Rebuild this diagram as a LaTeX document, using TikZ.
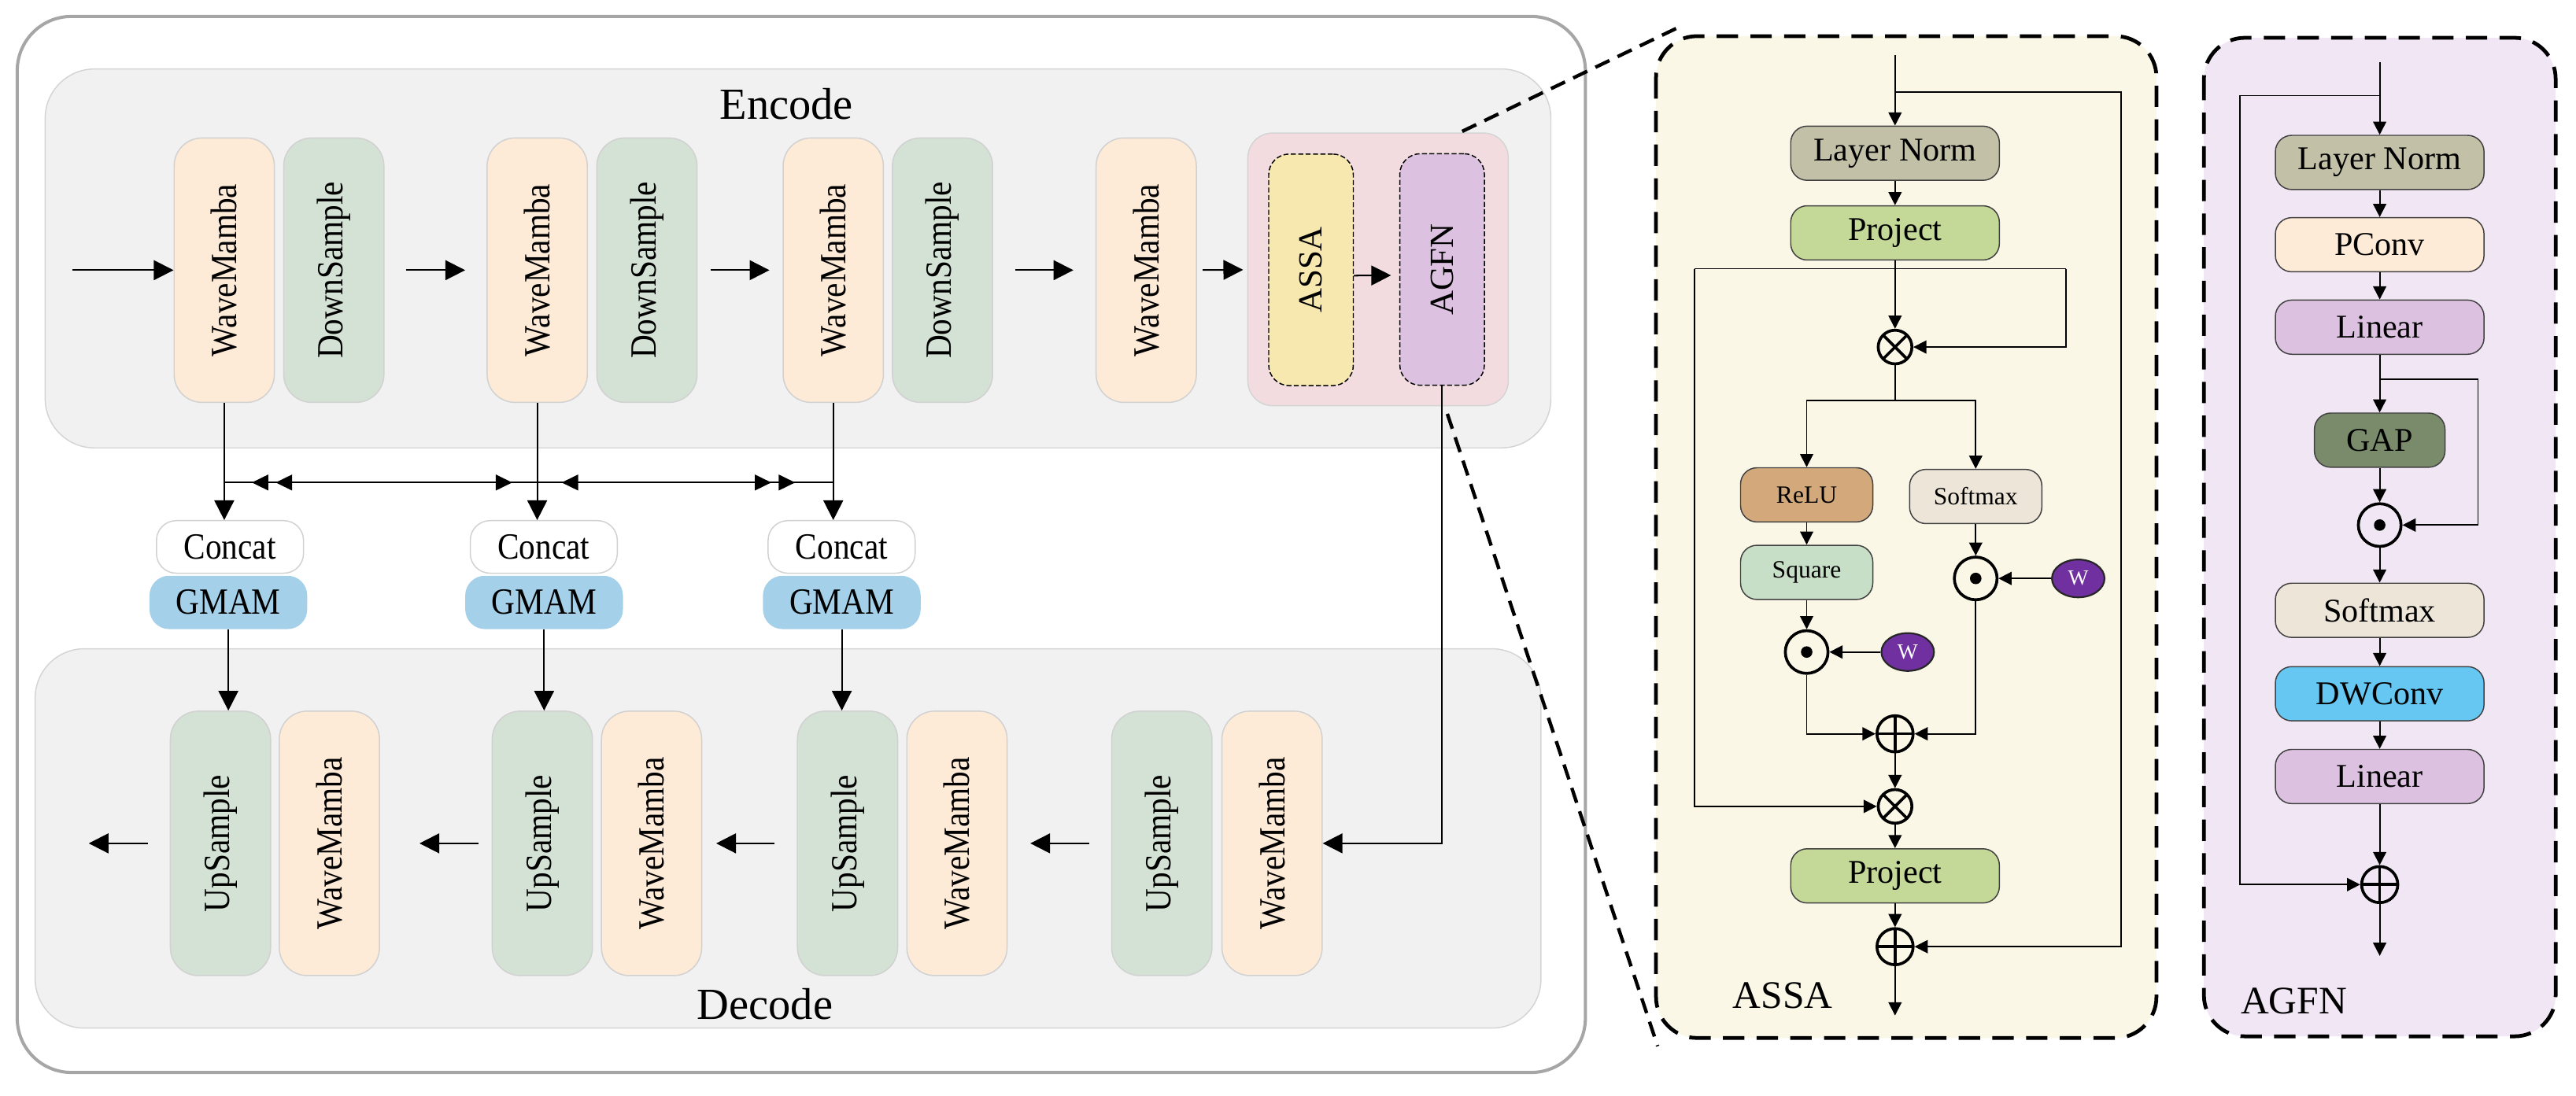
\documentclass[tikz,border=0pt]{standalone}
\usepackage{fontspec}
\setmainfont{Liberation Serif}
\newfontfamily\condfont[FakeStretch=0.88]{Liberation Serif}
\usetikzlibrary{arrows.meta,shapes.geometric}
\definecolor{framegray}{HTML}{A6A6A6}
\definecolor{panelgray}{HTML}{F1F1F1}
\definecolor{wmfill}{HTML}{FDEAD7}
\definecolor{dsfill}{HTML}{D3E2D4}
\definecolor{pinkfill}{HTML}{F3DCDF}
\definecolor{assafill}{HTML}{F7E8B0}
\definecolor{agfnfill}{HTML}{DCC2E0}
\definecolor{gmamfill}{HTML}{A4D0E9}
\definecolor{creamfill}{HTML}{FAF7E7}
\definecolor{lavfill}{HTML}{F1E6F4}
\definecolor{lnfill}{HTML}{C3C0A8}
\definecolor{projfill}{HTML}{C4D897}
\definecolor{relufill}{HTML}{D3A97C}
\definecolor{softfill}{HTML}{EDE6D8}
\definecolor{sqfill}{HTML}{C7DEC7}
\definecolor{wfill}{HTML}{7030A0}
\definecolor{pcfill}{HTML}{FDEBD8}
\definecolor{gapfill}{HTML}{7A8B6C}
\definecolor{dwfill}{HTML}{66C8F2}
\newcommand{\vlab}[1]{\rotatebox{90}{#1}}
\begin{document}
\begin{tikzpicture}[x=0.2mm,y=-0.2mm,
	blk/.style={draw=black!18, rounded corners=3.4mm, minimum width=12.2mm, minimum height=32.2mm, inner sep=0pt, font=\condfont\fontsize{12.8}{14}\selectfont},
	wm/.style={blk, fill=wmfill},
	ds/.style={blk, fill=dsfill},
	inblk/.style={draw=black, line width=0.4pt, dash pattern=on 0.6mm off 0.3mm, rounded corners=2.5mm, minimum width=10.3mm, minimum height=28.2mm, inner sep=0pt, font=\fontsize{11.7}{13}\selectfont},
	cat/.style={draw=black!18, fill=white, rounded corners=2.4mm, minimum width=17.9mm, minimum height=6.4mm, inner sep=0pt, font=\condfont\fontsize{12.8}{14}\selectfont},
	gm/.style={cat, draw=none, fill=gmamfill, minimum width=19.2mm, minimum height=6.5mm},
	arr/.style={-{Triangle[length=2.4mm,width=2.4mm]}, line width=0.55pt},
	skl/.style={line width=0.55pt},
	sk/.tip={Triangle[length=2mm,width=1.9mm,sep=0.9mm]},
	zoomline/.style={line width=1.2pt, dash pattern=on 1.9mm off 1.1mm},
	panelline/.style={line width=1.3pt, dash pattern=on 2.6mm off 1.5mm, rounded corners=5mm},
	box/.style={draw=black!75, line width=0.4pt, rounded corners=2mm, minimum width=25.4mm, minimum height=6.6mm, inner sep=0pt, font=\fontsize{11.5}{13}\selectfont},
	sbox/.style={box, minimum width=16.1mm, font=\fontsize{8.6}{10}\selectfont},
	parr/.style={-{Triangle[length=1.6mm,width=1.6mm]}, line width=0.5pt},
	pl/.style={line width=0.5pt},
	op/.style={circle, draw, line width=1pt, minimum size=4.2mm, inner sep=0pt},
	mulop/.style={op, minimum size=4.1mm, path picture={\draw[line width=1pt] (path picture bounding box.south west) -- (path picture bounding box.north east) (path picture bounding box.north west) -- (path picture bounding box.south east);}},
	addop/.style={op, minimum size=4.4mm, path picture={\draw[line width=1pt] (path picture bounding box.north) -- (path picture bounding box.south) (path picture bounding box.west) -- (path picture bounding box.east);}},
	dotop/.style={op, minimum size=5.2mm, path picture={\fill (path picture bounding box.center) circle (0.7mm);}},
	wgt/.style={ellipse, draw=black!85, line width=0.6pt, fill=wfill, text=white, minimum width=6.4mm, minimum height=4.6mm, inner sep=0pt, font=\fontsize{7.5}{8}\selectfont}]
	\useasboundingbox (0,0) rectangle (1568,667);
	\draw[framegray, line width=1.1pt, rounded corners=6.6mm] (10.5,10) rectangle (965,653);
	\draw[draw=black!17, fill=panelgray, rounded corners=6mm] (27.5,42) rectangle (944,272.7);
	\draw[draw=black!17, fill=panelgray, rounded corners=6mm] (21.4,395) rectangle (938,626);
	\node[font=\fontsize{15.4}{17}\selectfont] (enc) at (478.7,63.5) {Encode};
	\node[font=\fontsize{15.4}{17}\selectfont] (dec) at (465.6,611.5) {Decode};

	\node[wm] (wm1) at (136.5,164.5) {\vlab{WaveMamba}};
	\node[ds] (ds1) at (203.2,164.5) {\vlab{DownSample}};
	\node[wm] (wm2) at (327,164.5) {\vlab{WaveMamba}};
	\node[ds] (ds2) at (393.8,164.5) {\vlab{DownSample}};
	\node[wm] (wm3) at (507.2,164.5) {\vlab{WaveMamba}};
	\node[ds] (ds3) at (573.7,164.5) {\vlab{DownSample}};
	\node[wm] (wm4) at (697.7,164.5) {\vlab{WaveMamba}};
	\node[draw=black!17, fill=pinkfill, rounded corners=3mm, minimum width=31.7mm, minimum height=33.2mm] (ssb) at (838.8,164) {};
	\node[inblk, fill=assafill] (assa) at (798,164.3) {\vlab{ASSA}};
	\node[inblk, fill=agfnfill] (agfn) at (877.8,164.1) {\vlab{AGFN}};

	\node[cat] (cat1) at (140,333) {Concat};
	\node[gm] (gm1) at (139,366.8) {GMAM};
	\node[cat] (cat2) at (331,333) {Concat};
	\node[gm] (gm2) at (331.2,366.8) {GMAM};
	\node[cat] (cat3) at (512.3,333) {Concat};
	\node[gm] (gm3) at (512.4,366.8) {GMAM};

	\node[ds] (ups1) at (134.2,513.5) {\vlab{UpSample}};
	\node[wm] (dwm1) at (200.5,513.5) {\vlab{WaveMamba}};
	\node[ds] (ups2) at (330.1,513.5) {\vlab{UpSample}};
	\node[wm] (dwm2) at (396.6,513.5) {\vlab{WaveMamba}};
	\node[ds] (ups3) at (515.9,513.5) {\vlab{UpSample}};
	\node[wm] (dwm3) at (582.5,513.5) {\vlab{WaveMamba}};
	\node[ds] (ups4) at (707.2,513.5) {\vlab{UpSample}};
	\node[wm] (dwm4) at (774.3,513.5) {\vlab{WaveMamba}};

	\coordinate (ein) at (44,164.5);
	\coordinate (dout) at (54,513.5);
	\draw[arr] (ein) -- (wm1);
	\draw[arr, shorten <=2.6mm, shorten >=2.6mm] (ds1) -- (wm2);
	\draw[arr, shorten <=1.6mm, shorten >=1.6mm] (ds2) -- (wm3);
	\draw[arr, shorten <=2.7mm, shorten >=2.7mm] (ds3) -- (wm4);
	\draw[arr, shorten <=0.7mm, shorten >=0.5mm] (wm4) -- (ssb);
	\draw[arr, shorten >=1mm] ([yshift=-0.7mm]assa.east) -- ([yshift=-0.7mm]agfn.west);
	\draw[arr] (wm1) -- (wm1.south |- cat1.north);
	\draw[arr] (wm2) -- (wm2.south |- cat2.north);
	\draw[arr] (wm3) -- (wm3.south |- cat3.north);
	\coordinate (skl) at (0,293.8);
	\coordinate (sa) at (148.8,293.8);
	\coordinate (sb) at (316.3,293.8);
	\coordinate (sc) at (337.4,293.8);
	\coordinate (sd) at (488.5,293.8);
	\draw[skl] (wm1.south |- skl) -- (wm3.south |- skl);
	\draw[skl, {sk[]sk[]}-{sk[]}] (sa) -- (sb);
	\draw[skl, {sk[]}-{sk[]sk[]}] (sc) -- (sd);
	\draw[arr] (gm1) -- (gm1.south |- ups1.north);
	\draw[arr] (gm2) -- (gm2.south |- ups2.north);
	\draw[arr] (gm3) -- (gm3.south |- ups3.north);
	\draw[arr, shorten <=2.7mm] (ups1) -- (dout);
	\draw[arr, shorten <=1.6mm, shorten >=4.8mm] (ups2) -- (dwm1);
	\draw[arr, shorten <=2.7mm, shorten >=1.7mm] (ups3) -- (dwm2);
	\draw[arr, shorten <=2.7mm, shorten >=2.76mm] (ups4) -- (dwm3);
	\draw[arr] (agfn) |- (dwm4);

	\draw[panelline, fill=creamfill] (1008,22) rectangle (1312.6,632);
	\draw[panelline, fill=lavfill] (1341.5,23) rectangle (1555.6,631);
	\coordinate (z1) at (890,80);
	\coordinate (z2) at (1023,16);
	\coordinate (z3) at (881,252);
	\coordinate (z4) at (1009,637);
	\draw[zoomline] (z1) -- (z2);
	\draw[zoomline] (z3) -- (z4);

	\coordinate (ai) at (1153.5,33.6);
	\coordinate (ar) at (1291,56);
	\node[box, fill=lnfill] (aln) at (1153.5,93.3) {Layer Norm};
	\node[box, fill=projfill] (apj) at (1153.5,141.8) {Project};
	\node[mulop] (am1) at (1153.5,211.3) {};
	\node[sbox, fill=relufill] (arl) at (1099.7,301.3) {ReLU};
	\node[sbox, fill=softfill] (asm) at (1202.6,302.3) {Softmax};
	\node[sbox, fill=sqfill] (asq) at (1099.7,348.5) {Square};
	\node[dotop] (adr) at (1202.6,352.2) {};
	\node[wgt] (awr) at (1265,352.2) {W};
	\node[dotop] (adl) at (1099.7,397) {};
	\node[wgt] (awl) at (1161.2,397) {W};
	\node[addop] (aa1) at (1153.5,446.8) {};
	\node[mulop] (am2) at (1153.5,491) {};
	\node[box, fill=projfill] (apj2) at (1153.5,533.3) {Project};
	\node[addop] (aa2) at (1153.5,576.4) {};
	\coordinate (ao) at (1153.5,618.3);
	\coordinate (al) at (1031.5,163.6);
	\coordinate (aR) at (1257.5,163.6);
	\coordinate (as) at (1153.5,243.8);
	\draw[parr] (ai) -- (aln);
	\draw[parr] (ai |- ar) -- (ar) |- (aa2);
	\draw[parr] (aln) -- (apj);
	\draw[parr] (apj) -- (am1);
	\draw[pl] (al) -- (aR);
	\draw[parr] (aR) |- (am1);
	\draw[parr] (al) |- (am2);
	\draw[pl] (am1) -- (as);
	\draw[parr] (as) -| (arl);
	\draw[parr] (as) -| (asm);
	\draw[parr] (arl) -- (asq);
	\draw[parr] (asm) -- (adr);
	\draw[parr] (awr) -- (adr);
	\draw[parr] (asq) -- (adl);
	\draw[parr] (awl) -- (adl);
	\draw[parr] (adl) |- (aa1);
	\draw[parr] (adr) |- (aa1);
	\draw[parr] (aa1) -- (am2);
	\draw[parr] (am2) -- (apj2);
	\draw[parr] (apj2) -- (aa2);
	\draw[parr] (aa2) -- (ao);
	\node[anchor=west, font=\fontsize{13.5}{15}\selectfont] (alab) at (1048.6,606) {ASSA};

	\coordinate (gi) at (1448.5,38);
	\coordinate (gs) at (1363.3,58.2);
	\coordinate (gb) at (1508.3,231);
	\node[box, fill=lnfill] (gln) at (1448.5,98.9) {Layer Norm};
	\node[box, fill=pcfill] (gpc) at (1448.5,149) {PConv};
	\node[box, fill=agfnfill] (gl1) at (1448.5,199.2) {Linear};
	\node[box, fill=gapfill, minimum width=15.9mm] (gap) at (1448.5,268) {GAP};
	\node[dotop] (gd) at (1448.5,319.7) {};
	\node[box, fill=softfill] (gsm) at (1448.5,371.6) {Softmax};
	\node[box, fill=dwfill] (gdw) at (1448.5,422.4) {DWConv};
	\node[box, fill=agfnfill] (gl2) at (1448.5,472.8) {Linear};
	\node[addop] (ga) at (1448.5,538.6) {};
	\coordinate (go) at (1448.5,582);
	\draw[parr] (gi) -- (gln);
	\draw[parr] (gi |- gs) -- (gs) |- (ga);
	\draw[parr] (gln) -- (gpc);
	\draw[parr] (gpc) -- (gl1);
	\draw[parr] (gl1) -- (gap);
	\draw[parr] (gl1.south |- gb) -- (gb) |- (gd);
	\draw[parr] (gap) -- (gd);
	\draw[parr] (gd) -- (gsm);
	\draw[parr] (gsm) -- (gdw);
	\draw[parr] (gdw) -- (gl2);
	\draw[parr] (gl2) -- (ga);
	\draw[parr] (ga) -- (go);
	\node[anchor=west, font=\fontsize{13.5}{15}\selectfont] (glab) at (1357.7,609.5) {AGFN};
\end{tikzpicture}
\end{document}
